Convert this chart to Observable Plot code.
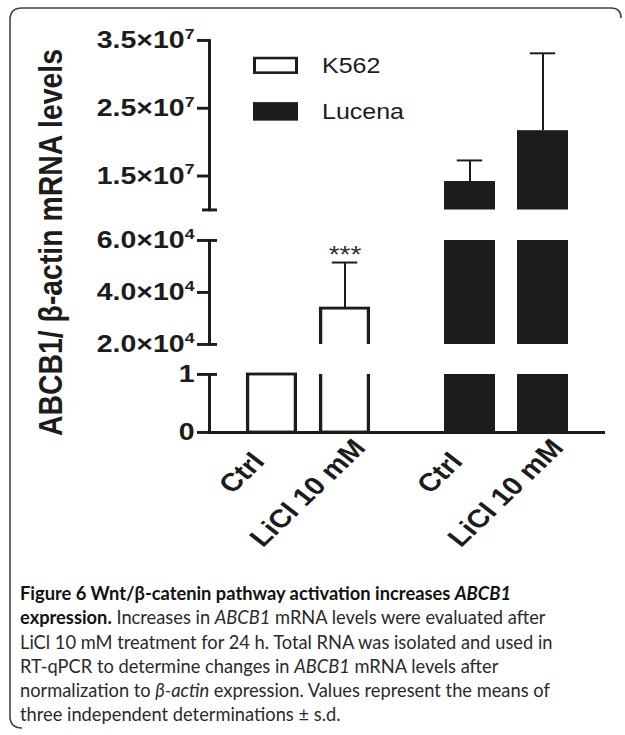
<!DOCTYPE html>
<html>
<head>
<meta charset="utf-8">
<script src="https://cdn.jsdelivr.net/npm/d3@7"></script>
<script src="https://cdn.jsdelivr.net/npm/@observablehq/plot@0.6"></script>
<style>
  body { margin: 0; background: #fff; }
  #page { position: relative; width: 625px; height: 735px; overflow: hidden; background: #fff; color: #1c1c1c; font-family: "Liberation Sans", Arial, sans-serif; }
  #border { position: absolute; left: 0; top: 0; }
  #squash { position: absolute; left: 0; top: 0; width: 625px; height: 680px; transform-origin: 0 0; }
  #squash > svg { position: absolute; left: 0; top: 0; overflow: visible; }
  .sw { position: absolute; box-sizing: border-box; }
  .lg { position: absolute; font-size: 25px; line-height: 25px; white-space: nowrap; }
  #ylabel { position: absolute; font-weight: bold; font-size: 33px; line-height: 33px; white-space: nowrap; transform: translate(-50%, -50%) rotate(-90deg); }
  #caption { position: absolute; left: 20px; top: 581px; font-family: Lato, "Open Sans", sans-serif; font-size: 18.3px; line-height: 24.3px; color: #2a2a2a; }
  #caption div { white-space: nowrap; }
  #caption b { color: #111; }
</style>
</head>
<body>
<div id="page">
  <svg id="border" width="625" height="735"><path d="M 22,728 Q 10,728 10,716 L 10,20 Q 10,8 22,8 L 611,8 Q 621,8 621,18" fill="none" stroke="#444" stroke-width="1.6"/></svg>
  <div id="squash"></div>
  <div id="caption">
    <div><b>Figure 6 Wnt/β-catenin pathway activation increases <i>ABCB1</i></b></div>
    <div><b>expression.</b> Increases in <i>ABCB1</i> mRNA levels were evaluated after</div>
    <div>LiCl 10 mM treatment for 24 h. Total RNA was isolated and used in</div>
    <div>RT-qPCR to determine changes in <i>ABCB1</i> mRNA levels after</div>
    <div>normalization to <i>β-actin</i> expression. Values represent the means of</div>
    <div>three independent determinations ± s.d.</div>
  </div>
</div>
<script>
// ---------- data ----------
const cellLines = ["K562", "Lucena"];
const treatments = ["Ctrl", "LiCl 10 mM"];
const k562Mean = [1, 33800];
const k562SD = [0, 17700];
const lucenaMean = [14200000, 21700000];
const lucenaSD = [3100000, 11400000];
const k562Signif = ["", "***"];
const lucenaSignif = ["", ""];

// broken y axis: three segments
const lowDomain = [0, 1];
const lowTicks = [0, 1];
const lowTickLabels = ["0", "1"];
const midDomain = [20000, 60000];
const midTicks = [20000, 40000, 60000];
const midTickLabels = ["2.0×10^4", "4.0×10^4", "6.0×10^4"];
const topDomain = [10000000, 35000000];
const topTicks = [15000000, 25000000, 35000000];
const topTickLabels = ["1.5×10^7", "2.5×10^7", "3.5×10^7"];

const yLabel = "ABCB1/ β-actin mRNA levels";

// ---------- layout ----------
const INK = "#1c1c1c";
const S = 0.86;          // vertical squash of the graph
const PH = 680;          // unsquashed plot height
const W = 625, ML = 209, MR = 20;
const facetW = (W - ML - MR) / 2;

const means = {K562: k562Mean, Lucena: lucenaMean};
const sds = {K562: k562SD, Lucena: lucenaSD};
const signifs = {K562: k562Signif, Lucena: lucenaSignif};
const rows = [];
cellLines.forEach(cell => treatments.forEach((t, i) => {
  rows.push({cell, treatment: t, mean: means[cell][i], sd: sds[cell][i], signif: signifs[cell][i], filled: cell === "Lucena"});
}));

const segments = [
  {domain: topDomain, ticks: topTicks, labels: topTickLabels, px: [40, 209.5], caps: [{v: topDomain[0], both: true}]},
  {domain: midDomain, ticks: midTicks, labels: midTickLabels, px: [240, 344], caps: [{v: midDomain[0]}, {v: midDomain[1]}]},
  {domain: lowDomain, ticks: lowTicks, labels: lowTickLabels, px: [374, 432], caps: [{v: lowDomain[1]}], low: true}
];

const squash = document.getElementById("squash");
squash.style.transform = `scaleY(${S})`;

for (const seg of segments) {
  const [lo, hi] = seg.domain;
  const labelMap = new Map(seg.ticks.map((t, i) => [t, seg.labels[i]]));
  const pieces = rows.filter(r => r.mean > lo).map(r => ({
    ...r, y1: lo, y2: Math.min(r.mean, hi), cutTop: r.mean > hi, cutBottom: lo > 0
  }));
  const inside = rows.filter(r => r.mean > lo && r.mean <= hi);
  const marks = [];
  marks.push(Plot.rect(pieces.filter(p => p.filled), {fx: "cell", x: "treatment", y1: "y1", y2: "y2", fill: INK}));
  for (const ct of [false, true]) for (const cb of [false, true]) {
    const sub = pieces.filter(p => !p.filled && p.cutTop === ct && p.cutBottom === cb);
    if (!sub.length) continue;
    marks.push(Plot.rect(sub, {
      fx: "cell", x: "treatment", y1: "y1", y2: "y2", fill: "white", stroke: INK, strokeWidth: 3.3,
      insetLeft: 1.6, insetRight: 1.6, insetTop: ct ? -8 : 0, insetBottom: cb ? -8 : 0, clip: ct || cb
    }));
  }
  const errs = inside.filter(r => r.sd > 0);
  marks.push(Plot.ruleX(errs, {fx: "cell", x: "treatment", y1: "mean", y2: d => d.mean + d.sd, stroke: INK, strokeWidth: 2}));
  marks.push(Plot.tickY(errs, {fx: "cell", x: "treatment", y: d => d.mean + d.sd, stroke: INK, strokeWidth: 2.3, insetLeft: 12.8, insetRight: 12.8}));
  marks.push(Plot.text(errs.filter(d => d.signif), {fx: "cell", x: "treatment", y: d => d.mean + d.sd, text: "signif", lineAnchor: "bottom", dy: 0, fontSize: 28, fill: "#333"}));
  // axis
  marks.push(Plot.frame({anchor: "left", facetAnchor: "left", stroke: INK, strokeWidth: 3}));
  marks.push(Plot.axisY({ticks: seg.ticks, tickFormat: d => labelMap.get(d), tickSize: 12, tickPadding: 3, fontSize: 28.5, fontWeight: "bold", strokeWidth: 3.4, stroke: INK, label: null, facetAnchor: "left"}));
  for (const c of seg.caps) {
    marks.push(Plot.tickY([c.v], {y: d => d, stroke: INK, strokeWidth: 3.4, insetLeft: c.both ? -7 : 0, insetRight: facetW - 8, facetAnchor: "left"}));
  }
  if (seg.low) {
    marks.push(Plot.ruleY([lo], {stroke: INK, strokeWidth: 3.4}));
    marks.push(Plot.text(rows.filter(r => r.treatment === treatments[0]), {fx: "cell", x: "treatment", frameAnchor: "bottom", text: "treatment", rotate: -48, textAnchor: "end", fontSize: 29.5, fontWeight: "bold", fill: INK, dx: -6, dy: 35}));
    marks.push(Plot.text(rows.filter(r => r.treatment === treatments[1]), {fx: "cell", x: "treatment", frameAnchor: "bottom", text: "treatment", rotate: -48, textAnchor: "end", fontSize: 29.5, fontWeight: "bold", fill: INK, dx: 22, dy: 19}));
  }
  const chart = Plot.plot({
    width: W, height: PH,
    marginLeft: ML, marginRight: MR,
    marginTop: seg.px[0] / S, marginBottom: PH - seg.px[1] / S,
    fx: {domain: cellLines, padding: 0, axis: null},
    x: {domain: treatments, paddingInner: 0.295, paddingOuter: 0.5, axis: null},
    y: {domain: seg.domain, axis: null},
    style: {fontFamily: '"Liberation Sans", Arial, sans-serif', background: "transparent", overflow: "visible", color: INK},
    marks
  });
  // render "a×10^n" tick labels with a raised exponent
  chart.querySelectorAll("text").forEach(t => {
    const s = t.textContent;
    const k = s.indexOf("^");
    if (k < 0) return;
    t.textContent = s.slice(0, k);
    const sup = document.createElementNS("http://www.w3.org/2000/svg", "tspan");
    sup.setAttribute("font-size", "0.62em");
    sup.setAttribute("dy", "-0.62em");
    sup.textContent = s.slice(k + 1);
    t.appendChild(sup);
  });
  squash.appendChild(chart);
}

// legend (inside the squashed graph area)
const legendItems = [
  {label: cellLines[0], top: 57, bottom: 74, filled: false},
  {label: cellLines[1], top: 102, bottom: 120, filled: true}
];
for (const it of legendItems) {
  const sw = document.createElement("div");
  sw.className = "sw";
  sw.style.left = "253px"; sw.style.width = "45px";
  sw.style.top = (it.top / S) + "px";
  sw.style.height = ((it.bottom - it.top) / S) + "px";
  sw.style.border = `3px solid ${INK}`;
  sw.style.background = it.filled ? INK : "white";
  squash.appendChild(sw);
  const tx = document.createElement("div");
  tx.className = "lg";
  tx.textContent = it.label;
  tx.style.left = "322px";
  tx.style.top = (((it.top + it.bottom) / 2) / S - 12.2) + "px";
  squash.appendChild(tx);
}
const yl = document.createElement("div");
yl.id = "ylabel";
yl.textContent = yLabel;
yl.style.left = "49.7px";
yl.style.top = (242.5 / S) + "px";
squash.appendChild(yl);
</script>
</body>
</html>
